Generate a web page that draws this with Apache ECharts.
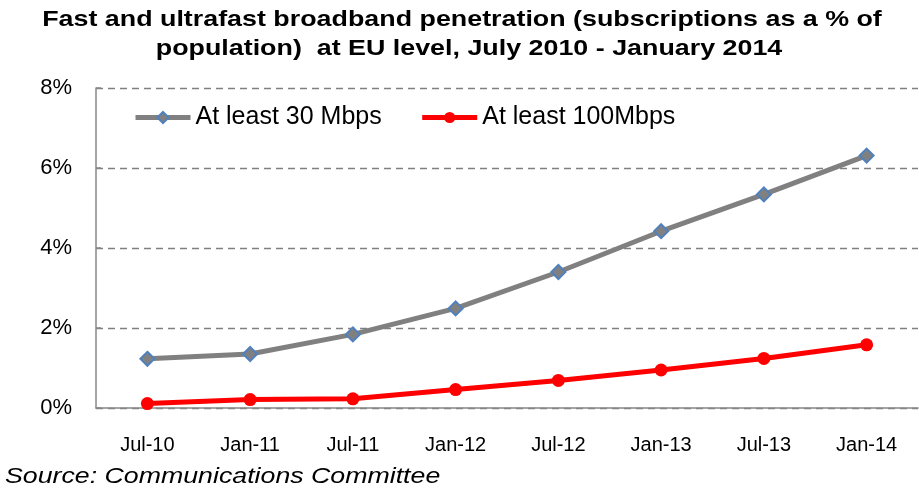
<!DOCTYPE html>
<html><head><meta charset="utf-8">
<script src="https://cdn.jsdelivr.net/npm/echarts@6/dist/echarts.min.js"></script>
<style>html,body{margin:0;padding:0;background:#fff}#c{width:919px;height:489px}</style>
</head><body><div id="c"></div>
<script>
var categories = ['Jul-10','Jan-11','Jul-11','Jan-12','Jul-12','Jan-13','Jul-13','Jan-14'];
var atLeast30 = [1.23, 1.35, 1.84, 2.49, 3.40, 4.42, 5.34, 6.31];
var atLeast100 = [0.11, 0.21, 0.23, 0.46, 0.69, 0.95, 1.24, 1.58];
var yTicks = [0, 2, 4, 6, 8];
var titleLines = ['Fast and ultrafast broadband penetration (subscriptions as a % of', 'population)  at EU level, July 2010 - January 2014'];
var sourceText = 'Source: Communications Committee';

var chart = echarts.init(document.getElementById('c'), null, {renderer:'canvas'});
chart.setOption({
  animation:false,
  backgroundColor:'#fff',
  graphic:[
    {type:'text', x:462, y:20, scaleX:1.22, style:{text:titleLines[0], font:'bold 22px "Liberation Sans", Arial', fill:'#000', align:'center', verticalAlign:'middle'}},
    {type:'text', x:469, y:49, scaleX:1.22, style:{text:titleLines[1], font:'bold 22px "Liberation Sans", Arial', fill:'#000', align:'center', verticalAlign:'middle'}},
    {type:'text', x:5, y:477, scaleX:1.215, style:{text:sourceText, font:'italic 22px "Liberation Sans", Arial', fill:'#000', align:'left', verticalAlign:'middle'}}
  ],
  legend:{
    left:128, top:100, itemWidth:55, itemHeight:14, itemGap:38,
    textStyle:{fontFamily:'Liberation Sans, Arial', fontSize:25, color:'#000'},
    lineStyle:{width:5},
    data:['At least 30 Mbps','At least 100Mbps']
  },
  grid:{left:96, right:1, top:88, bottom:81, containLabel:false},
  xAxis:{
    type:'category', data:categories, boundaryGap:true,
    axisLine:{lineStyle:{color:'#888', width:1.5}},
    axisTick:{show:false},
    axisLabel:{margin:27, fontFamily:'Liberation Sans Narrow, Liberation Sans', fontSize:20, color:'#000'}
  },
  yAxis:{
    type:'value', min:yTicks[0], max:yTicks[yTicks.length-1], interval:2,
    axisLine:{show:true, lineStyle:{color:'#888', width:1.5}},
    axisTick:{show:true, inside:true, length:5, lineStyle:{color:'#888', width:1.5}},
    axisLabel:{margin:24, fontFamily:'Liberation Sans, Arial', fontSize:22, color:'#000', formatter:function(v){return v+'%';}},
    splitLine:{show:true, lineStyle:{color:'#808080', type:[7,5], width:1.3}}
  },
  series:[{
    name:'At least 30 Mbps', type:'line', data:atLeast30,
    symbol:'diamond', symbolSize:14,
    lineStyle:{color:'#808080', width:5},
    itemStyle:{color:'#808080', borderColor:'#4f81bd', borderWidth:2}
  },{
    name:'At least 100Mbps', type:'line', data:atLeast100,
    symbol:'circle', symbolSize:13,
    lineStyle:{color:'#ff0000', width:5},
    itemStyle:{color:'#ff0000'}
  }]
});
</script></body></html>
